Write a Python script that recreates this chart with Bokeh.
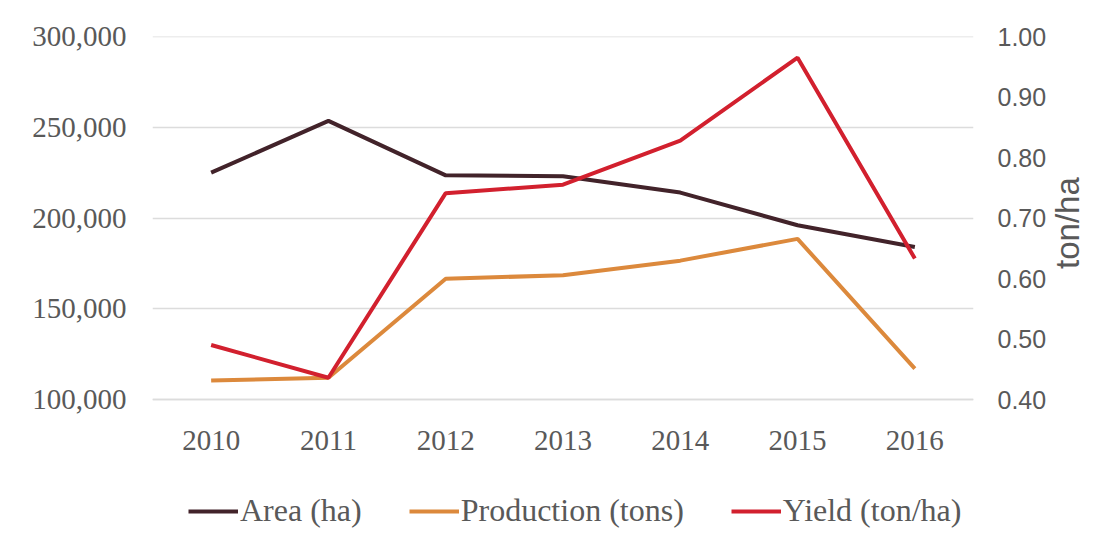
import math
from bokeh.plotting import figure
from bokeh.models import (LinearAxis, Range1d, FixedTicker, NumeralTickFormatter,
                          Legend, LegendItem, FactorRange, Span)
from bokeh.embed import file_html
from bokeh.resources import INLINE

years = ["2010", "2011", "2012", "2013", "2014", "2015", "2016"]
area = [225000, 253500, 223500, 223000, 214000, 196000, 184000]
production = [110500, 112000, 166500, 168500, 176500, 188500, 117000]
yield_t = [0.49, 0.436, 0.741, 0.755, 0.828, 0.965, 0.633]

series_names = ["Area (ha)", "Production (tons)", "Yield (ton/ha)"]
series_colors = ["#42232a", "#dc893c", "#d2202e"]

left_ticks = [100000, 150000, 200000, 250000, 300000]
right_ticks = [0.4, 0.5, 0.6, 0.7, 0.8, 0.9, 1.0]
right_title = "ton/ha"

SERIF = "Liberation Serif"
SANS = "Liberation Sans"
TXT = "#595959"
GRID = "#dcdcdc"

# frame spans 36..556 px; 100,000 / 0.40 sit at 399 px (363 px for the data span)
FRAME_H = 520
DATA_H = 363
left_lo = left_ticks[-1] - FRAME_H * (left_ticks[-1] - left_ticks[0]) / DATA_H
right_lo = right_ticks[-1] - FRAME_H * (right_ticks[-1] - right_ticks[0]) / DATA_H

p = figure(width=1120, height=556, x_range=FactorRange(*years, range_padding=0),
           y_range=Range1d(left_lo, left_ticks[-1]), output_backend="svg",
           toolbar_location=None, min_border_left=152, min_border_right=147,
           min_border_top=36, min_border_bottom=0)
p.outline_line_color = None
p.background_fill_color = "white"
p.border_fill_color = "white"
p.xgrid.grid_line_color = None
p.ygrid.grid_line_color = GRID
p.ygrid.grid_line_width = 1.5
p.ygrid.ticker = FixedTicker(ticks=left_ticks)
for v in (left_ticks[0], left_ticks[-1]):
    p.add_layout(Span(location=v, dimension="width", line_color=GRID, line_width=1.5))

p.extra_y_ranges = {"yield": Range1d(right_lo, right_ticks[-1])}

r1 = p.line(years, area, line_color=series_colors[0], line_width=4)
r2 = p.line(years, production, line_color=series_colors[1], line_width=4)
r3 = p.line(years, yield_t, line_color=series_colors[2], line_width=4, y_range_name="yield")

ya = p.yaxis[0]
ya.ticker = FixedTicker(ticks=left_ticks)
ya.formatter = NumeralTickFormatter(format="0,0")
xa = p.xaxis[0]
xa.fixed_location = left_ticks[0]
for ax in (ya, xa):
    ax.axis_line_color = None
    ax.major_tick_line_color = None
    ax.minor_tick_line_color = None
    ax.major_label_text_font = SERIF
    ax.major_label_text_font_size = "29px"
    ax.major_label_text_color = TXT
ya.major_label_standoff = 20
xa.major_label_standoff = 25

ra = LinearAxis(y_range_name="yield", ticker=FixedTicker(ticks=right_ticks),
                formatter=NumeralTickFormatter(format="0.00"))
ra.axis_line_color = None
ra.major_tick_line_color = None
ra.minor_tick_line_color = None
ra.major_label_text_font = SANS
ra.major_label_text_font_size = "25px"
ra.major_label_text_color = TXT
ra.major_label_standoff = 18
ra.axis_label_text_font = SANS
ra.axis_label_text_font_style = "normal"
ra.axis_label_text_font_size = "33px"
ra.axis_label_text_color = TXT
ra.axis_label_standoff = 18
pad = "\u00a0" * 3
try:
    ra.axis_label_orientation = math.pi / 2   # read bottom-to-top
    ra.axis_label = pad + right_title
except Exception:
    ra.axis_label = right_title
p.add_layout(ra, "right")

items = [LegendItem(label=n, renderers=[r]) for n, r in zip(series_names, [r1, r2, r3])]
legend = Legend(items=items, orientation="horizontal", location=(36, 27))
legend.label_text_font = SERIF
legend.label_text_font_size = "32px"
legend.label_text_color = TXT
legend.glyph_width = 50
legend.label_standoff = 2
legend.spacing = 47
legend.padding = 0
legend.margin = 0
legend.border_line_color = None
legend.background_fill_alpha = 0
p.add_layout(legend, "center")

open("out.html", "w").write(file_html(p, INLINE))
